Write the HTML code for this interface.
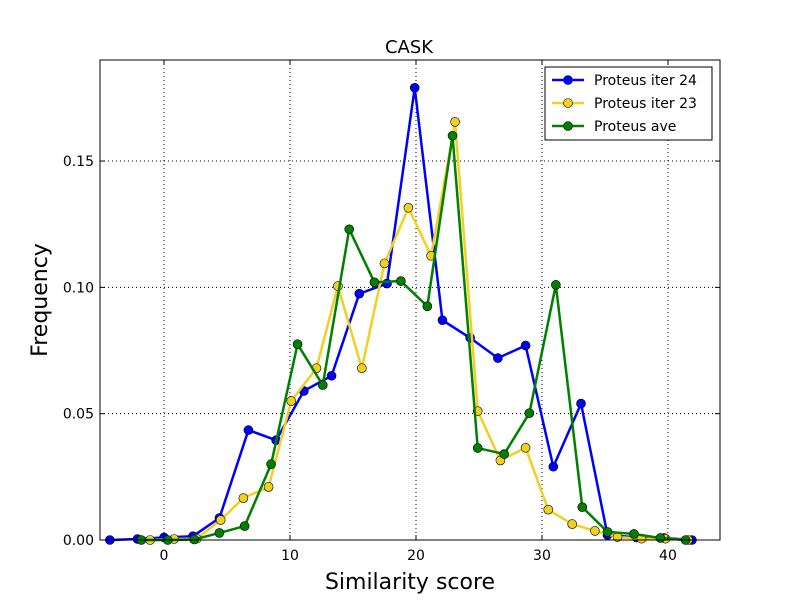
<!DOCTYPE html>
<html><head><meta charset="utf-8"><style>
body{margin:0;background:#fff;}
svg{font-family:"DejaVu Sans","Liberation Sans",sans-serif;}
</style></head><body>
<svg id="chart" width="800" height="600" xmlns="http://www.w3.org/2000/svg">
<rect width="800" height="600" fill="#fff"/>
<g id="grid"></g>
<g id="series"></g>
<rect x="100" y="60" width="620" height="480" fill="none" stroke="#000" stroke-width="1"/>
<g id="ticks"></g>
<text x="409" y="53" font-size="18" text-anchor="middle">CASK</text>
<text x="410" y="589" font-size="22" text-anchor="middle">Similarity score</text>
<text x="47" y="300" font-size="22" text-anchor="middle" transform="rotate(-90 47 300)">Frequency</text>
<g id="legend"></g>
</svg>
<script>
const xTicks=[0,10,20,30,40];
const yTicks=[0,0.05,0.10,0.15];
const yTickLabels=["0.00","0.05","0.10","0.15"];
const seriesNames=["Proteus iter 24","Proteus iter 23","Proteus ave"];
const blueX=[-4.3,-2.1,0,2.3,4.4,6.7,8.9,11.1,13.3,15.5,17.7,19.9,22.1,24.3,26.5,28.7,30.9,33.1,35.2,37.5,39.7,41.9];
const blueY=[0,0.0004,0.001,0.0015,0.0087,0.0435,0.0395,0.059,0.065,0.0975,0.1015,0.179,0.087,0.080,0.072,0.077,0.029,0.054,0.002,0.001,0.0008,0];
const yellowX=[-1.1,0.8,2.6,4.5,6.3,8.3,10.1,12.1,13.8,15.7,17.5,19.4,21.2,23.1,24.9,26.7,28.7,30.5,32.4,34.2,36.0,37.9,39.8,41.6];
const yellowY=[0,0.0004,0.0005,0.0079,0.0166,0.021,0.055,0.068,0.1005,0.068,0.1095,0.1315,0.1125,0.1655,0.051,0.0315,0.0365,0.012,0.0063,0.0036,0.0012,0.0005,0.0005,0];
const greenX=[-1.8,0.3,2.4,4.4,6.4,8.5,10.6,12.6,14.7,16.7,18.8,20.9,22.9,24.9,27.0,29.0,31.1,33.2,35.2,37.3,39.4,41.4];
const greenY=[0,0,0.0002,0.0028,0.0055,0.030,0.0775,0.0613,0.123,0.102,0.1025,0.0925,0.160,0.0364,0.034,0.0502,0.101,0.013,0.0032,0.0024,0.0008,0];
const NS="http://www.w3.org/2000/svg";
const X0=100,X1=720,Y0=540,Y1=60,xmin=-5.08,xmax=44.13,ymin=0,ymax=0.19;
const sx=v=>X0+(v-xmin)/(xmax-xmin)*(X1-X0);
const sy=v=>Y0-(v-ymin)/(ymax-ymin)*(Y0-Y1);
function mk(tag,attrs,parent){const e=document.createElementNS(NS,tag);for(const k in attrs)e.setAttribute(k,attrs[k]);parent.appendChild(e);return e;}
const grid=document.getElementById('grid'),ticks=document.getElementById('ticks');
xTicks.forEach(t=>{const x=sx(t);
 const g=mk('line',{x1:x,x2:x,y1:Y1,y2:Y0,stroke:'#000','stroke-dasharray':'1,3','stroke-width':1},grid);
 
 mk('line',{x1:x,x2:x,y1:Y0,y2:Y0-5,stroke:'#000'},ticks);mk('line',{x1:x,x2:x,y1:Y1,y2:Y1+5,stroke:'#000'},ticks);
 const l=mk('text',{x:x,y:Y0+20,'font-size':14,'text-anchor':'middle'},ticks);l.textContent=t;
 });
yTicks.forEach((t,i)=>{const y=sy(t);
 const g=mk('line',{x1:X0,x2:X1,y1:y,y2:y,stroke:'#000','stroke-dasharray':'1,3','stroke-width':1},grid);
 
 mk('line',{x1:X0,x2:X0+5,y1:y,y2:y,stroke:'#000'},ticks);mk('line',{x1:X1,x2:X1-5,y1:y,y2:y,stroke:'#000'},ticks);
 const l=mk('text',{x:X0-6,y:y+5,'font-size':14,'text-anchor':'end'},ticks);l.textContent=yTickLabels[i];
 });
const ser=document.getElementById('series');
const defs=[[blueX,blueY,'#0000ff','#0000ff'],[yellowX,yellowY,'#f0d020','#f0d020'],[greenX,greenY,'#007f00','#007f00']];
defs.forEach((d,si)=>{const g=mk('g',{},ser);
 
 const pts=d[0].map((x,i)=>sx(x)+','+sy(d[1][i])).join(' ');
 mk('polyline',{points:pts,fill:'none',stroke:d[2],'stroke-width':2.5},g);
 d[0].forEach((x,i)=>{const c=mk('circle',{cx:sx(x),cy:sy(d[1][i]),r:4.5,fill:d[3],stroke:'#000','stroke-width':0.6},g);
  });});
const lg=document.getElementById('legend');
mk('rect',{x:545,y:67,width:167,height:73,fill:'#fff',stroke:'#000'},lg);
seriesNames.forEach((n,i)=>{const y=80+i*23;const e=mk('g',{},lg);
 
 mk('line',{x1:552,x2:584,y1:y,y2:y,stroke:defs[i][2],'stroke-width':2.5},e);
 mk('circle',{cx:568,cy:y,r:4.5,fill:defs[i][3],stroke:'#000','stroke-width':0.6},e);
 const t=mk('text',{x:594,y:y+5,'font-size':14},e);t.textContent=n;});
</script>
</body></html>
